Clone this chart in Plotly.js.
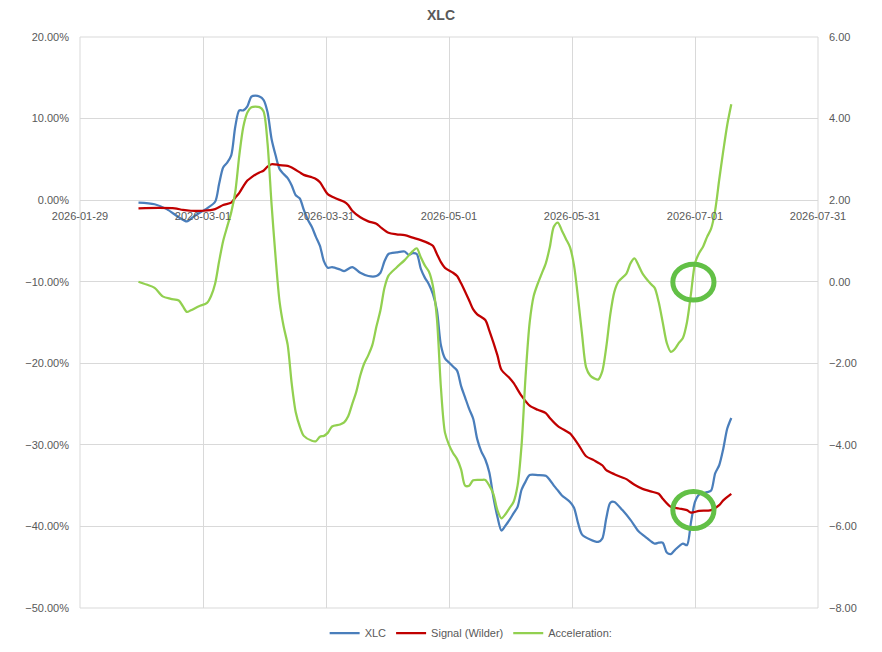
<!DOCTYPE html>
<html>
<head>
<meta charset="utf-8">
<script src="https://cdn.plot.ly/plotly-3.0.1.min.js"></script>
<style>html,body{margin:0;padding:0;background:#fff;}#chart{width:882px;height:652px;}</style>
</head>
<body>
<div id="chart"></div>
<script>
// ---- Data ----
const xlcDates = ["2026-02-13","2026-02-17","2026-02-20","2026-02-23","2026-02-25","2026-02-27","2026-03-02","2026-03-04","2026-03-05","2026-03-06","2026-03-07","2026-03-08","2026-03-09","2026-03-10","2026-03-11","2026-03-12","2026-03-13","2026-03-14","2026-03-15","2026-03-16","2026-03-17","2026-03-18","2026-03-19","2026-03-20","2026-03-21","2026-03-22","2026-03-23","2026-03-24","2026-03-25","2026-03-26","2026-03-27","2026-03-28","2026-03-29","2026-03-30","2026-03-31","2026-04-01","2026-04-02","2026-04-04","2026-04-05","2026-04-07","2026-04-09","2026-04-11","2026-04-13","2026-04-14","2026-04-15","2026-04-16","2026-04-18","2026-04-20","2026-04-21","2026-04-22","2026-04-23","2026-04-24","2026-04-25","2026-04-26","2026-04-27","2026-04-28","2026-04-29","2026-04-30","2026-05-01","2026-05-02","2026-05-03","2026-05-04","2026-05-05","2026-05-06","2026-05-07","2026-05-08","2026-05-09","2026-05-10","2026-05-11","2026-05-12","2026-05-13","2026-05-14","2026-05-15","2026-05-16","2026-05-17","2026-05-18","2026-05-19","2026-05-20","2026-05-21","2026-05-23","2026-05-25","2026-05-26","2026-05-27","2026-05-28","2026-05-29","2026-05-31","2026-06-01","2026-06-02","2026-06-03","2026-06-05","2026-06-07","2026-06-08","2026-06-09","2026-06-10","2026-06-11","2026-06-13","2026-06-15","2026-06-16","2026-06-17","2026-06-19","2026-06-21","2026-06-22","2026-06-23","2026-06-24","2026-06-25","2026-06-26","2026-06-28","2026-06-29","2026-06-30","2026-07-01","2026-07-02","2026-07-04","2026-07-05","2026-07-06","2026-07-07","2026-07-08","2026-07-09","2026-07-10"];
const xlcValues = [-0.3,-0.5,-1.1,-2.1,-2.6,-1.9,-1.0,-0.2,2.0,4.0,4.6,5.5,9.0,11.0,11.0,11.5,12.7,12.8,12.7,12.3,10.8,7.5,5.5,3.8,3.2,2.7,1.8,0.6,0.2,-1.2,-2.4,-3.3,-4.5,-5.6,-7.5,-8.3,-8.2,-8.5,-8.7,-8.2,-8.9,-9.3,-9.3,-8.9,-7.5,-6.6,-6.4,-6.3,-6.7,-6.5,-6.6,-8.4,-9.5,-10.3,-11.5,-13.5,-17.8,-19.4,-19.9,-20.4,-20.9,-22.8,-24.2,-25.6,-26.8,-29.3,-30.8,-31.8,-33.4,-36.4,-38.8,-40.5,-39.9,-39.2,-38.4,-37.6,-35.5,-34.5,-33.7,-33.7,-33.8,-34.3,-35.0,-35.6,-36.2,-37.0,-37.7,-39.6,-41.0,-41.6,-41.9,-41.5,-39.0,-37.1,-37.0,-38.0,-39.2,-39.9,-40.6,-41.4,-42.1,-42.0,-42.0,-43.2,-43.4,-42.9,-42.1,-42.3,-39.5,-37.0,-36.1,-35.8,-35.6,-33.5,-32.5,-30.5,-28.0,-26.7];

const signalDates = ["2026-02-13","2026-02-18","2026-02-22","2026-02-24","2026-02-26","2026-03-01","2026-03-04","2026-03-06","2026-03-08","2026-03-09","2026-03-10","2026-03-11","2026-03-12","2026-03-13","2026-03-15","2026-03-16","2026-03-17","2026-03-18","2026-03-20","2026-03-22","2026-03-23","2026-03-25","2026-03-26","2026-03-28","2026-03-29","2026-03-30","2026-03-31","2026-04-01","2026-04-03","2026-04-05","2026-04-06","2026-04-07","2026-04-09","2026-04-11","2026-04-13","2026-04-14","2026-04-16","2026-04-18","2026-04-20","2026-04-22","2026-04-24","2026-04-26","2026-04-27","2026-04-28","2026-04-29","2026-04-30","2026-05-02","2026-05-03","2026-05-04","2026-05-06","2026-05-07","2026-05-08","2026-05-10","2026-05-11","2026-05-13","2026-05-14","2026-05-16","2026-05-17","2026-05-19","2026-05-21","2026-05-23","2026-05-25","2026-05-26","2026-05-28","2026-05-30","2026-05-31","2026-06-02","2026-06-04","2026-06-06","2026-06-08","2026-06-09","2026-06-11","2026-06-13","2026-06-14","2026-06-16","2026-06-18","2026-06-20","2026-06-22","2026-06-23","2026-06-25","2026-06-27","2026-06-29","2026-06-30","2026-07-02","2026-07-05","2026-07-07","2026-07-08","2026-07-10"];
const signalValues = [-1.0,-0.95,-1.0,-1.2,-1.3,-1.3,-1.1,-0.6,-0.3,0.3,0.9,1.7,2.4,2.8,3.4,3.6,4.1,4.4,4.3,4.2,4.0,3.4,3.1,2.8,2.6,2.2,1.4,0.7,0.2,-0.2,-0.6,-1.3,-2.1,-2.6,-2.9,-3.3,-4.0,-4.2,-4.3,-4.6,-4.9,-5.3,-5.6,-6.6,-7.6,-8.3,-8.9,-9.3,-10.2,-12.3,-13.4,-14.0,-14.7,-16.0,-19.0,-20.8,-21.8,-22.4,-24.0,-25.2,-25.7,-26.1,-26.7,-27.7,-28.3,-28.6,-29.9,-31.4,-31.9,-32.5,-33.1,-33.6,-34.0,-34.2,-34.9,-35.4,-35.7,-36.0,-36.6,-37.6,-37.8,-38.0,-38.3,-38.1,-38.0,-37.4,-36.8,-36.0];

const accelDates = ["2026-02-13","2026-02-15","2026-02-17","2026-02-19","2026-02-21","2026-02-23","2026-02-24","2026-02-25","2026-02-26","2026-02-28","2026-03-02","2026-03-03","2026-03-04","2026-03-05","2026-03-06","2026-03-07","2026-03-08","2026-03-09","2026-03-10","2026-03-11","2026-03-12","2026-03-13","2026-03-15","2026-03-16","2026-03-17","2026-03-18","2026-03-19","2026-03-20","2026-03-21","2026-03-22","2026-03-23","2026-03-24","2026-03-25","2026-03-26","2026-03-28","2026-03-29","2026-03-30","2026-03-31","2026-04-01","2026-04-02","2026-04-04","2026-04-05","2026-04-06","2026-04-07","2026-04-08","2026-04-09","2026-04-10","2026-04-11","2026-04-12","2026-04-13","2026-04-14","2026-04-15","2026-04-16","2026-04-18","2026-04-20","2026-04-22","2026-04-23","2026-04-24","2026-04-25","2026-04-26","2026-04-27","2026-04-28","2026-04-29","2026-04-30","2026-05-01","2026-05-02","2026-05-03","2026-05-04","2026-05-05","2026-05-06","2026-05-07","2026-05-09","2026-05-10","2026-05-11","2026-05-12","2026-05-13","2026-05-14","2026-05-15","2026-05-16","2026-05-17","2026-05-18","2026-05-19","2026-05-20","2026-05-21","2026-05-22","2026-05-23","2026-05-24","2026-05-25","2026-05-26","2026-05-27","2026-05-28","2026-05-29","2026-05-30","2026-05-31","2026-06-01","2026-06-02","2026-06-03","2026-06-04","2026-06-05","2026-06-06","2026-06-07","2026-06-08","2026-06-09","2026-06-10","2026-06-11","2026-06-12","2026-06-14","2026-06-15","2026-06-16","2026-06-17","2026-06-18","2026-06-20","2026-06-21","2026-06-22","2026-06-23","2026-06-24","2026-06-25","2026-06-26","2026-06-27","2026-06-28","2026-06-29","2026-06-30","2026-07-01","2026-07-02","2026-07-03","2026-07-04","2026-07-05","2026-07-06","2026-07-07","2026-07-08","2026-07-09","2026-07-10"];
const accelValues = [0.0,-0.07,-0.15,-0.36,-0.42,-0.46,-0.6,-0.74,-0.7,-0.6,-0.52,-0.35,-0.05,0.5,1.0,1.35,1.7,2.2,3.1,3.8,4.15,4.28,4.28,4.18,3.4,1.9,0.6,-0.5,-1.1,-1.55,-2.5,-3.2,-3.55,-3.78,-3.9,-3.91,-3.8,-3.78,-3.7,-3.55,-3.5,-3.45,-3.3,-3.0,-2.7,-2.3,-2.0,-1.8,-1.55,-1.1,-0.7,-0.15,0.15,0.35,0.53,0.75,0.82,0.6,0.4,0.25,-0.1,-0.9,-2.6,-3.7,-4.0,-4.2,-4.35,-4.6,-5.0,-5.0,-4.87,-4.86,-4.86,-5.0,-5.2,-5.6,-5.8,-5.7,-5.55,-5.4,-5.0,-4.0,-2.3,-1.0,-0.35,-0.05,0.2,0.45,0.85,1.35,1.45,1.25,1.05,0.85,0.4,-0.4,-1.3,-2.1,-2.3,-2.37,-2.4,-2.2,-1.6,-0.8,-0.25,0.0,0.2,0.45,0.57,0.4,0.2,-0.05,-0.15,-0.5,-1.0,-1.5,-1.72,-1.65,-1.5,-1.38,-1.0,-0.3,0.45,0.7,0.86,1.1,1.3,1.75,2.5,3.2,3.85,4.35];

const xTickVals = ["2026-01-29 12:00","2026-03-01 00:00","2026-03-31 12:00","2026-05-01 00:00","2026-05-31 12:00","2026-07-01 00:00","2026-07-31 12:00"];
const xTickText = ["2026-01-29","2026-03-01","2026-03-31","2026-05-01","2026-05-31","2026-07-01","2026-07-31"];

// highlight circles (annotation marks)
const circleX = ["2026-06-25 12:00","2026-07-05 17:00"];
const circleAccel = [-0.45, 0.43];
const circleXlc = [-40.26, -35.72];

const font = "Liberation Sans, Arial, sans-serif";
const grey = "#595959";
const gridGrey = "#d9d9d9";

const traces = [
  {x: xlcDates, y: xlcValues, name: "XLC", type: "scatter", mode: "lines",
   line: {color: "#4a7ebb", width: 2.25, shape: "spline", smoothing: 0.8}, yaxis: "y"},
  {x: signalDates, y: signalValues, name: "Signal (Wilder)", type: "scatter", mode: "lines",
   line: {color: "#c00000", width: 2.25, shape: "spline", smoothing: 0.8}, yaxis: "y"},
  {x: accelDates, y: accelValues, name: "Acceleration:", type: "scatter", mode: "lines",
   line: {color: "#92d050", width: 2.25, shape: "spline", smoothing: 0.8}, yaxis: "y2"}
];

const layout = {
  width: 882, height: 652,
  margin: {l: 80, r: 64, t: 37, b: 44, pad: 0, autoexpand: false},
  paper_bgcolor: "#fff", plot_bgcolor: "#fff",
  font: {family: font, size: 11, color: grey},
  title: {text: "<b>XLC</b>", font: {family: font, size: 14, color: grey},
          xref: "container", x: 0.5, xanchor: "center", yref: "container", y: 0.977, yanchor: "middle"},
  showlegend: true,
  legend: {orientation: "h", x: 0.53, xanchor: "center", y: -0.044, yanchor: "middle",
           font: {family: font, size: 11, color: grey}, bgcolor: "rgba(0,0,0,0)"},
  xaxis: {type: "date", range: ["2026-01-29 12:00", "2026-07-31 12:00"],
          tickmode: "array", tickvals: xTickVals, ticktext: xTickText,
          showgrid: true, gridcolor: gridGrey, gridwidth: 1, zeroline: false, showline: false,
          ticks: "", anchor: "free", position: 0.7145, ticklabelstandoff: 8,
          tickfont: {family: font, size: 11, color: grey}},
  yaxis: {range: [-50, 20], dtick: 10, tick0: 0, tickformat: ".2f", ticksuffix: "%",
          showgrid: true, gridcolor: gridGrey, gridwidth: 1, zeroline: false,
          showline: false, ticklabelstandoff: 10,
          ticks: "", tickfont: {family: font, size: 11, color: grey}},
  yaxis2: {range: [-8, 6], dtick: 2, tick0: 0, tickformat: ".2f", overlaying: "y", side: "right",
           showgrid: false, zeroline: false, showline: false,
           ticks: "", ticklabelstandoff: 10,
           tickfont: {family: font, size: 11, color: grey}},
  shapes: [
    {type: "rect", xref: "paper", yref: "paper", x0: 0, x1: 1, y0: 0, y1: 1, layer: "below",
     line: {color: gridGrey, width: 1}, fillcolor: "rgba(0,0,0,0)"},
    {type: "circle", xref: "x", yref: "y2", x0: circleX[0], x1: circleX[1], y0: circleAccel[0], y1: circleAccel[1],
     line: {color: "#62c046", width: 5}},
    {type: "circle", xref: "x", yref: "y", x0: circleX[0], x1: circleX[1], y0: circleXlc[0], y1: circleXlc[1],
     line: {color: "#62c046", width: 5}}
  ]
};

Plotly.newPlot("chart", traces, layout, {displayModeBar: false, staticPlot: true});
</script>
</body>
</html>
